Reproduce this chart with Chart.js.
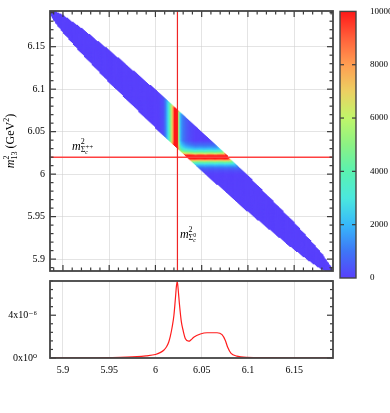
<!DOCTYPE html>
<html>
<head>
<meta charset="utf-8">
<script src="https://cdn.jsdelivr.net/npm/chart.js@4.4.1/dist/chart.umd.min.js"></script>
<style>
  html, body { margin: 0; padding: 0; background: #fff; }
  #wrap { position: relative; width: 390px; height: 413px; overflow: hidden; }
  #wrap canvas { position: absolute; }
</style>
</head>
<body>
<div id="wrap">
  <canvas id="dalitz" width="390" height="282" style="left:0;top:0"></canvas>
  <canvas id="projection" width="390" height="143" style="left:0;top:270px"></canvas>
  <canvas id="colorbar" width="55" height="290" style="left:335px;top:0"></canvas>
</div>
<script>
// axes (GeV^2)
var axisMin   = 5.886
  , axisMax   = 6.192
  , axisTicks = [5.9, 5.95, 6, 6.05, 6.1, 6.15]
  , massSc0   = 6.0238   // m^2 of Sigma_c^0, vertical line
  , massScpp  = 6.0199   // m^2 of Sigma_c^++, horizontal line

// Dalitz boundary : m23^2 column -> lowest / highest m13^2
var edgeX    = [5.8855, 5.887, 5.89, 5.9, 5.92, 5.95, 6.0, 6.05, 6.1, 6.15, 6.17, 6.18, 6.19, 6.1915]
  , edgeLow  = [6.1915, 6.1869, 6.1816, 6.1674, 6.1428, 6.1086, 6.0552, 6.0046, 5.9564, 5.9116, 5.8955, 5.8884, 5.8839, 5.8855]
  , edgeHigh = [6.1915, 6.1931, 6.1924, 6.1866, 6.1712, 6.1454, 6.0988, 6.0494, 5.9976, 5.9424, 5.9185, 5.9056, 5.8901, 5.8855]

// resonance bands : counts vs distance from the mass line
var bandOffsets = [-0.02, -0.015, -0.012, -0.009, -0.0065, -0.0045, -0.003, -0.0015, 0, 0.0015, 0.003, 0.0045, 0.0065, 0.009, 0.012, 0.015, 0.02]
  , sc0Band     = [0, 300, 1300, 3000, 5200, 8000, 10000, 10000, 10000, 6500, 2800, 1600, 1100, 700, 400, 200, 0]
  , scppBand    = [0, 300, 900, 2000, 3500, 5500, 8000, 10000, 10000, 10000, 9500, 6500, 4200, 2600, 1500, 800, 0]
  , countTicks  = [0, 2000, 4000, 6000, 8000, 10000]

// m23^2 projection, y in units of 1e-6
var projX = [5.886, 5.9, 5.95, 5.98, 5.99, 6.0, 6.005, 6.009, 6.012, 6.0144, 6.016, 6.018, 6.02, 6.0216, 6.0228, 6.0236, 6.0245, 6.026, 6.028, 6.03, 6.0324, 6.036, 6.0385, 6.0414, 6.0486, 6.0558, 6.0666, 6.072, 6.0756, 6.078, 6.0818, 6.088, 6.099, 6.12, 6.15, 6.192]
  , projY = [0, 0.01, 0.04, 0.12, 0.2, 0.33, 0.5, 0.73, 1.05, 1.5, 2.0, 2.85, 4.0, 5.57, 6.8, 7.15, 6.5, 5.0, 3.4, 2.55, 1.8, 1.57, 1.7, 1.94, 2.24, 2.36, 2.36, 2.18, 1.64, 1.03, 0.43, 0.18, 0.06, 0.03, 0.02, 0.01]
  , projTicks = [0, 4e-6]

// colour map of the z axis
var paletteStops = [0, 1000, 2000, 3000, 4000, 5000, 6000, 7000, 8000, 9000, 10000]
  , paletteRGB   = [[88,64,252],[62,118,246],[55,185,250],[75,232,222],[90,242,176],[140,242,132],[192,246,106],[236,208,98],[255,158,82],[255,96,58],[255,24,24]]

var serif = '"Liberation Serif", "DejaVu Serif", serif'

var lookup = function (xs, ys, x, outside) {
    if (x < xs[0] || x > xs[xs.length - 1]) return outside
    for (var i = 1; i < xs.length; i++) {
      if (x <= xs[i]) {
        var t = (x - xs[i - 1]) / (xs[i] - xs[i - 1])
        return ys[i - 1] + t * (ys[i] - ys[i - 1])
      }
    }
    return ys[ys.length - 1]
  }

  , countColor = function (v) {
      v = Math.max(0, Math.min(10000, v))
      for (var i = 1; i < paletteStops.length; i++) {
        if (v <= paletteStops[i]) {
          var
              t = (v - paletteStops[i - 1]) / (paletteStops[i] - paletteStops[i - 1])
            , a = paletteRGB[i - 1]
            , b = paletteRGB[i]
          return 'rgb(' + [0, 1, 2].map(function (k) { return Math.round(a[k] + t * (b[k] - a[k])) }).join(',') + ')'
        }
      }
    }

  , tickLabel = function (v) { return String(+v.toFixed(3)) }

// cells of the Dalitz plot
var
    cellStep   = 0.0012
  , cells      = []
  , cellColors = []

for (var i = 0; axisMin + (i + 0.5) * cellStep < axisMax; i++) {
  var
      cx = axisMin + (i + 0.5) * cellStep
    , lo = lookup(edgeX, edgeLow, cx, null)
    , hi = lookup(edgeX, edgeHigh, cx, null)
  if (lo === null) continue
  for (var j = 0; axisMin + (j + 0.5) * cellStep < axisMax; j++) {
    var cy = axisMin + (j + 0.5) * cellStep
    if (cy < lo || cy > hi) continue
    var count = lookup(bandOffsets, sc0Band, cx - massSc0, 0) + lookup(bandOffsets, scppBand, cy - massScpp, 0)
    cells.push({ x: cx, y: cy })
    cellColors.push(countColor(count))
  }
}

// frame + inward tick marks
var framePlugin = {
  id: 'frame',
  afterDraw: function (chart, args, opts) {
    var ctx = chart.ctx, a = chart.chartArea
    ctx.save()
    ctx.strokeStyle = '#3a3a3a'
    ctx.lineWidth = 1.2
    ;(opts.marks || []).forEach(function (m) {
      var scale = chart.scales[m.axis]
        , n = Math.round((m.last - m.first) / m.step)
      for (var k = 0; k <= n; k++) {
        var
            v     = m.first + k * m.step
          , major = Math.abs(v / m.major - Math.round(v / m.major)) < 1e-6
          , len   = major ? m.long : m.short
          , p     = scale.getPixelForValue(v)
        m.sides.forEach(function (side) {
          ctx.beginPath()
          if (side == 'top')    { ctx.moveTo(p, a.top);    ctx.lineTo(p, a.top + len) }
          if (side == 'bottom') { ctx.moveTo(p, a.bottom); ctx.lineTo(p, a.bottom - len) }
          if (side == 'left')   { ctx.moveTo(a.left, p);   ctx.lineTo(a.left + len, p) }
          if (side == 'right')  { ctx.moveTo(a.right, p);  ctx.lineTo(a.right - len, p) }
          ctx.stroke()
        })
      }
    })
    ctx.lineWidth = opts.width || 1.8
    ctx.strokeStyle = '#444'
    ctx.strokeRect(a.left, a.top, a.right - a.left, a.bottom - a.top)
    ctx.restore()
  }
}

// small helper for m^2_{..} style labels : [text, size, dy, italic, stacked]
var drawMath = function (ctx, parts, x, y) {
    var start = 0, end = 0, items = []
    parts.forEach(function (p) {
      var font = (p[3] ? 'italic ' : '') + p[1] + 'px ' + serif
      ctx.font = font
      var w = ctx.measureText(p[0]).width
        , px = p[4] ? start : end
      items.push({ text: p[0], font: font, x: px, dy: p[2] })
      start = px
      end = Math.max(end, px + w)
    })
    return function (align) {
      var x0 = align == 'center' ? x - end / 2 : x
      items.forEach(function (it) {
        ctx.font = it.font
        ctx.fillText(it.text, x0 + it.x, y + it.dy)
      })
    }
  }

  , massTitle = function (sub) {
      return [['m', 12, 0, true], ['2', 8, -5], [sub, 8, 3, false, true], [' (GeV', 12, 0], ['2', 8, -5], [')', 12, 0]]
    }

var labelsPlugin = {
  id: 'labels',
  afterDraw: function (chart) {
    var ctx = chart.ctx, xs = chart.scales.x, ys = chart.scales.y
    ctx.save()
    ctx.fillStyle = '#000'
    ctx.textBaseline = 'alphabetic'
    ctx.textAlign = 'left'
    drawMath(ctx, [['m', 12, 0, true], ['2', 8, -6], ['\u03A3', 8, 2, false, true], ['c', 6, 4, true], ['++', 7, -1, false, true]],
      xs.left + 22, ys.getPixelForValue(massScpp) - 7)()
    drawMath(ctx, [['m', 12, 0, true], ['2', 8, -6], ['\u03A3', 8, 2, false, true], ['c', 6, 4, true], ['0', 6, -1, false, true]],
      xs.getPixelForValue(massSc0) + 2.5, ys.bottom - 33)()
    ctx.translate(14, (ys.top + ys.bottom) / 2)
    ctx.rotate(-Math.PI / 2)
    drawMath(ctx, massTitle('13'), 0, 0)('center')
    ctx.restore()
  }
}

var xTitlePlugin = {
  id: 'xtitle',
  afterDraw: function (chart) {
    var ctx = chart.ctx, xs = chart.scales.x
    ctx.save()
    ctx.fillStyle = '#000'
    ctx.textBaseline = 'alphabetic'
    ctx.textAlign = 'left'
    drawMath(ctx, massTitle('23'), (xs.left + xs.right) / 2, xs.bottom + 33)('center')
    ctx.restore()
  }
}

var gridColor = 'rgba(205,205,205,0.55)'

new Chart(document.getElementById('dalitz'), {
    type    : 'scatter'
  , data    : {
      datasets: [
          {
              data        : [{ x: massSc0, y: axisMin }, { x: massSc0, y: axisMax }]
            , showLine    : true
            , borderColor : '#f02424'
            , borderWidth : 1.2
            , pointRadius : 0
            , order       : 0
          }
        , {
              data        : [{ x: axisMin, y: massScpp }, { x: axisMax, y: massScpp }]
            , showLine    : true
            , borderColor : '#ff4040'
            , borderWidth : 1.4
            , pointRadius : 0
            , order       : 1
          }
        , {
              data                 : cells
            , pointStyle           : 'rect'
            , pointRadius          : 1.3
            , pointBorderWidth     : 0
            , pointBackgroundColor : cellColors
            , clip                 : 0
            , order                : 2
          }
      ]
    }
  , options : {
      responsive : false
    , animation  : false
    , events     : []
    , layout     : { padding: { left: 0, top: 6, right: 57, bottom: 3 } }
    , plugins    : {
          legend  : { display: false }
        , tooltip : { enabled: false }
        , frame   : {
              width : 1.8
            , marks : [
                  { axis: 'x', first: 5.89, last: 6.19, step: 0.01, major: 0.05, long: 6, short: 3.5, sides: ['top', 'bottom'] }
                , { axis: 'y', first: 5.89, last: 6.19, step: 0.01, major: 0.05, long: 6, short: 3.5, sides: ['left', 'right'] }
              ]
          }
      }
    , scales     : {
          x : {
              type            : 'linear'
            , min             : axisMin
            , max             : axisMax
            , z               : 1
            , afterBuildTicks : function (s) { s.ticks = axisTicks.map(function (v) { return { value: v } }) }
            , afterFit        : function (s) { s.height = 0 }
            , ticks           : { display: false }
            , grid            : { color: gridColor, drawTicks: false }
            , border          : { display: false }
          }
        , y : {
              type            : 'linear'
            , min             : axisMin
            , max             : axisMax
            , z               : 1
            , afterBuildTicks : function (s) { s.ticks = axisTicks.map(function (v) { return { value: v } }) }
            , afterFit        : function (s) { s.width = 50 }
            , ticks           : { color: '#000', padding: 5, font: { family: serif, size: 10 }, callback: tickLabel }
            , grid            : { color: gridColor, drawTicks: false }
            , border          : { display: false }
          }
      }
  }
  , plugins : [framePlugin, labelsPlugin]
})

new Chart(document.getElementById('projection'), {
    type    : 'line'
  , data    : {
      datasets: [{
          data                   : projX.map(function (x, k) { return { x: x, y: projY[k] * 1e-6 } })
        , borderColor            : '#ff1c1c'
        , borderWidth            : 1.2
        , pointRadius            : 0
        , cubicInterpolationMode : 'monotone'
      }]
    }
  , options : {
      responsive : false
    , animation  : false
    , events     : []
    , layout     : { padding: { left: 0, top: 9, right: 57, bottom: 0 } }
    , plugins    : {
          legend  : { display: false }
        , tooltip : { enabled: false }
        , frame   : {
              width : 1.8
            , marks : [
                { axis: 'y', first: 0, last: 7.2e-6, step: 0.8e-6, major: 4e-6, long: 6, short: 3, sides: ['left', 'right'] }
              ]
          }
      }
    , scales     : {
          x : {
              type            : 'linear'
            , min             : axisMin
            , max             : axisMax
            , afterBuildTicks : function (s) { s.ticks = axisTicks.map(function (v) { return { value: v } }) }
            , afterFit        : function (s) { s.height = 55 }
            , ticks           : { color: '#000', padding: 6, maxRotation: 0, font: { family: serif, size: 10 }, callback: tickLabel }
            , grid            : { color: gridColor, drawTicks: false }
            , border          : { display: false }
          }
        , y : {
              type            : 'linear'
            , min             : 0
            , max             : 7.2e-6
            , afterBuildTicks : function (s) { s.ticks = projTicks.map(function (v) { return { value: v } }) }
            , afterFit        : function (s) { s.width = 50 }
            , ticks           : {
                  color    : '#000'
                , padding  : 5
                , font     : { family: serif, size: 10 }
                , callback : function (v) { return v === 0 ? '0x10\u2070' : '4x10\u207B\u2076' }
              }
            , grid            : { display: false }
            , border          : { display: false }
          }
      }
  }
  , plugins : [framePlugin, xTitlePlugin]
})

new Chart(document.getElementById('colorbar'), {
    type    : 'bar'
  , data    : {
      labels   : ['counts']
    , datasets : [{
          data               : [[countTicks[0], countTicks[countTicks.length - 1]]]
        , barPercentage      : 1
        , categoryPercentage : 1
        , borderWidth        : 0
        , backgroundColor    : function (c) {
            var chart = c.chart
            if (!chart.chartArea) return 'rgba(0,0,0,0)'
            var
                ys = chart.scales.y
              , g  = chart.ctx.createLinearGradient(0, ys.getPixelForValue(0), 0, ys.getPixelForValue(10000))
            paletteStops.forEach(function (s, k) { g.addColorStop(s / 10000, 'rgb(' + paletteRGB[k].join(',') + ')') })
            return g
          }
      }]
    }
  , options : {
      responsive : false
    , animation  : false
    , events     : []
    , layout     : { padding: { left: 5, top: 7, right: 0, bottom: 12 } }
    , plugins    : {
          legend  : { display: false }
        , tooltip : { enabled: false }
        , frame   : {
              width : 1.4
            , marks : [
                { axis: 'y', first: 2000, last: 8000, step: 2000, major: 2000, long: 4, short: 4, sides: ['left', 'right'] }
              ]
          }
      }
    , scales     : {
          x : { display: false }
        , y : {
              position        : 'right'
            , min             : 0
            , max             : 10000
            , afterBuildTicks : function (s) { s.ticks = countTicks.map(function (v) { return { value: v } }) }
            , afterFit        : function (s) { s.width = 34 }
            , ticks           : { color: '#000', padding: 6, font: { family: serif, size: 9 }, callback: function (v) { return String(v) } }
            , grid            : { display: false }
            , border          : { display: false }
          }
      }
  }
  , plugins : [framePlugin]
})
</script>
</body>
</html>
